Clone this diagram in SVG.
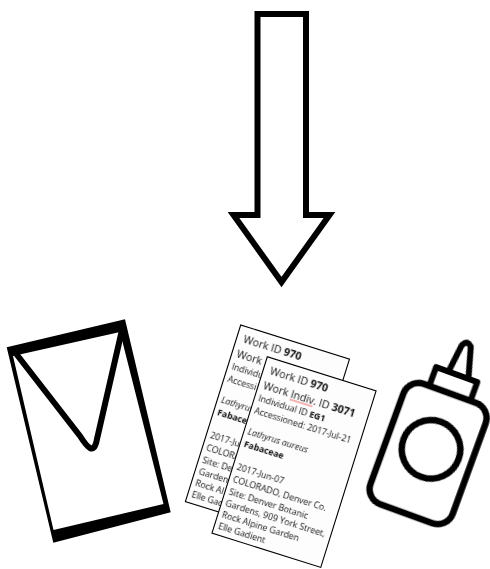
<svg xmlns="http://www.w3.org/2000/svg" width="490" height="569" viewBox="0 0 490 569">
<style>
.i{fill:none;stroke:#000;stroke-linejoin:round;stroke-linecap:round}
.card{fill:#fdfdfd;stroke:#000;stroke-width:1.1}
text{font-family:"Open Sans","Noto Sans",sans-serif;fill:#111}
.h{font-size:10.6px}.s{font-size:8.8px}.b{font-weight:700}.e{font-style:italic}
</style>
<defs><filter id="soft" x="-5%" y="-5%" width="110%" height="110%"><feGaussianBlur stdDeviation="0.3"/></filter></defs>
<rect width="490" height="569" fill="#fff"/>
<g id="arrow"><path d="M257.5 14H306V215H329.5L281.5 282 233.5 215H257.5Z" fill="#fff" stroke="#000" stroke-width="6" stroke-miterlimit="10"/></g>
<g id="envelope" filter="url(#soft)">
<path fill-rule="evenodd" d="M6.7 347.3L125 319.3 170.7 512.3 53.3 542.7ZM13 356L120 332 163.5 504 53.5 530Z"/>
<path class="i" stroke-width="6" d="M14 351L80 436C87 447 94 456 97 439L122 330"/>
</g>
<g id="card-back" transform="translate(240.7 325) rotate(17.4)">
<rect class="card" width="114" height="185"/>
<g filter="url(#soft)">
<text class="h" x="7" y="15.5">Work ID <tspan class="b">970</tspan></text>
<text class="h" x="5" y="32">Work</text>
<text class="s" x="4" y="44.5">Individu</text>
<text class="s" x="4" y="57.5">Accessi</text>
<text class="s e" x="4" y="79.6">Lathyrus</text>
<text class="s b" x="4" y="93">Fabace</text>
<text class="s" x="4" y="116.5">2017-Ju</text>
<text class="s" x="4" y="129.6">COLORA</text>
<text class="s" x="4" y="142.5">Site: De</text>
<text class="s" x="4" y="154.5">Gardens</text>
<text class="s" x="4" y="167">Rock Al</text>
<text class="s" x="4" y="178.6">Elle Gad</text>
</g>
</g>
<g id="card-front" transform="translate(267.3 356.7) rotate(17.4)">
<rect class="card" width="114" height="185"/>
<g filter="url(#soft)">
<text class="h" x="7" y="15.5">Work ID <tspan class="b">970</tspan></text>
<text class="h" x="5" y="32">Work Indiv. ID <tspan class="b">3071</tspan></text>
<path d="M34 34H58" stroke="#e66" stroke-width="1" fill="none"/>
<text class="s" x="4" y="44.5">Individual ID <tspan class="b">EG1</tspan></text>
<text class="s" x="4" y="57.5">Accessioned: 2017-Jul-21</text>
<text class="s e" x="4" y="79.6">Lathyrus aureus</text>
<text class="s b" x="4" y="93">Fabaceae</text>
<text class="s" x="4" y="116.5">2017-Jun-07</text>
<text class="s" x="4" y="129.6">COLORADO, Denver Co.</text>
<text class="s" x="4" y="142.5">Site: Denver Botanic</text>
<text class="s" x="4" y="154.5">Gardens, 909 York Street,</text>
<text class="s" x="4" y="167">Rock Alpine Garden</text>
<text class="s" x="4" y="178.6">Elle Gadient</text>
</g>
</g>
<g id="glue" filter="url(#soft)" transform="translate(431 449.3) rotate(20)">
<rect class="i" x="-45" y="-59" width="87.5" height="128" rx="16" stroke-width="6.5"/>
<circle class="i" cx="0" cy="0" r="29.3" stroke-width="6.5"/>
<rect class="i" x="-23.3" y="-79" width="43.8" height="20" fill="#fff" stroke-width="6"/>
<path class="i" stroke-width="6" d="M-10 -80L-6.7 -108Q-3 -116 2.3 -110L10.8 -80"/>
</g>
</svg>
